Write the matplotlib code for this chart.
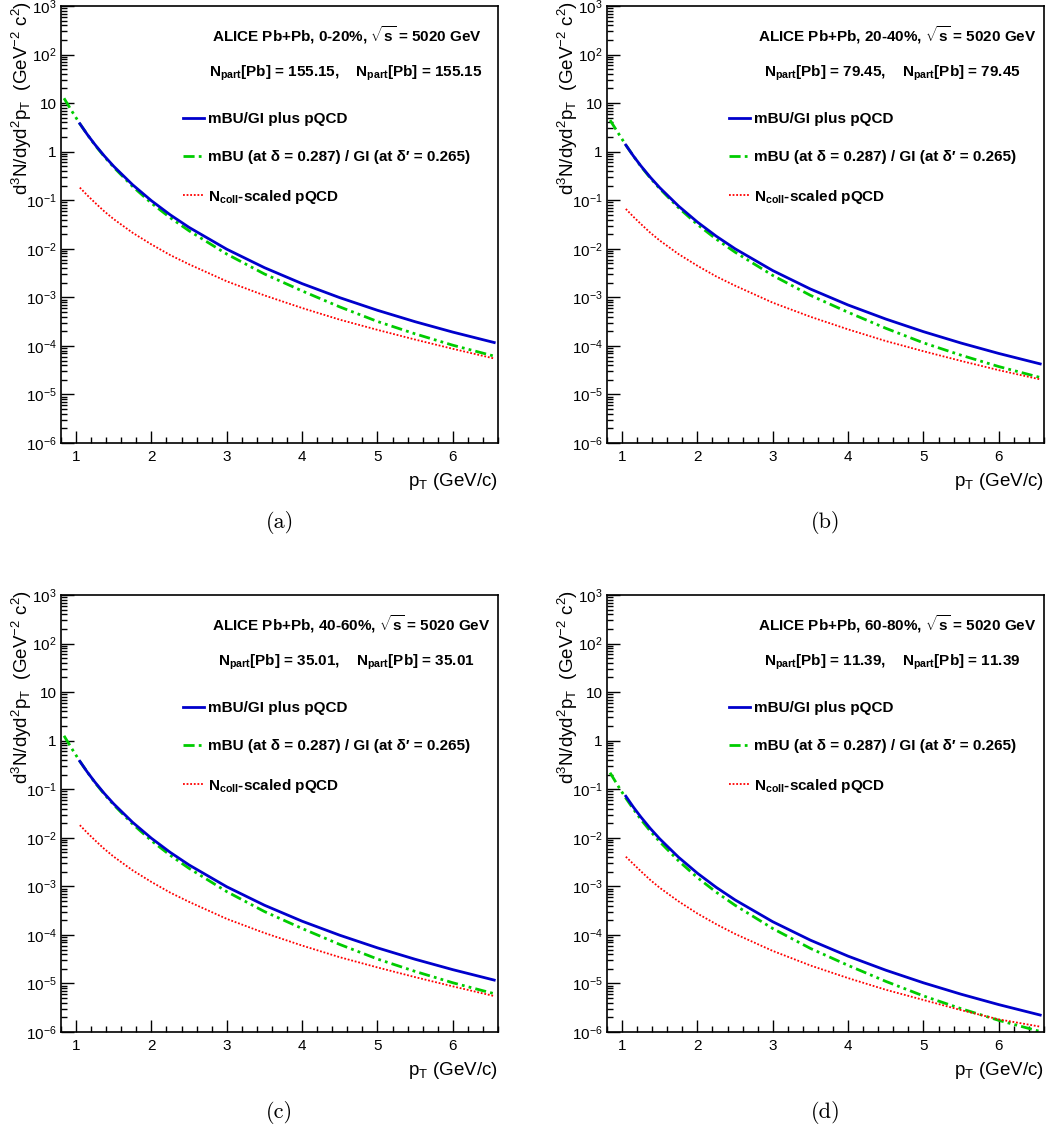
import numpy as np
import matplotlib
matplotlib.use("Agg")
import matplotlib.pyplot as plt
from matplotlib.lines import Line2D
from matplotlib.ticker import FixedLocator, FixedFormatter, LogLocator, MultipleLocator, NullFormatter

plt.rcParams['font.family'] = ['Liberation Sans', 'DejaVu Sans']
plt.rcParams['mathtext.fontset'] = 'custom'
plt.rcParams['mathtext.rm'] = 'Liberation Sans'
plt.rcParams['mathtext.it'] = 'Liberation Sans:italic'
plt.rcParams['mathtext.bf'] = 'Liberation Sans:bold'

# pT sampling
pt_grid = [1.05, 1.15, 1.25, 1.375, 1.5, 1.75, 2.0, 2.25, 2.5, 3.0, 3.5, 4.0, 4.5, 5.0, 5.5, 6.0, 6.55]
pt_green = [0.84, 0.95, 1.05, 1.15, 1.25, 1.375, 1.5, 1.75, 2.0, 2.25, 2.5, 3.0, 3.5, 4.0, 4.5, 5.0, 5.5, 6.0, 6.55]

# log10 of the yields
blue_a = [0.576, 0.352, 0.147, -0.088, -0.302, -0.681, -1.010, -1.301, -1.560, -2.009, -2.389, -2.718, -3.007, -3.267, -3.502, -3.716, -3.931]
green_a = [1.10, 0.82, 0.576, 0.352, 0.137, -0.103, -0.322, -0.716, -1.060, -1.361, -1.630, -2.109, -2.519, -2.868, -3.197, -3.497, -3.752, -3.986, -4.211]
red_a = [-0.74, -0.90, -1.05, -1.23, -1.39, -1.67, -1.91, -2.13, -2.32, -2.67, -2.96, -3.22, -3.46, -3.67, -3.87, -4.06, -4.26]

blue_b = [0.136, -0.088, -0.293, -0.528, -0.742, -1.121, -1.450, -1.741, -2.000, -2.449, -2.829, -3.158, -3.447, -3.707, -3.942, -4.156, -4.371]
green_b = [0.65, 0.38, 0.136, -0.088, -0.303, -0.543, -0.762, -1.156, -1.500, -1.801, -2.070, -2.549, -2.959, -3.308, -3.637, -3.937, -4.192, -4.426, -4.651]
red_b = [-1.18, -1.34, -1.49, -1.67, -1.83, -2.11, -2.35, -2.57, -2.76, -3.11, -3.40, -3.66, -3.90, -4.11, -4.31, -4.50, -4.69]

blue_c = [-0.424, -0.648, -0.853, -1.088, -1.302, -1.681, -2.010, -2.301, -2.560, -3.009, -3.389, -3.718, -4.007, -4.267, -4.502, -4.716, -4.931]
green_c = [0.10, -0.18, -0.424, -0.648, -0.863, -1.103, -1.322, -1.716, -2.060, -2.361, -2.630, -3.109, -3.519, -3.868, -4.197, -4.497, -4.752, -4.986, -5.211]
red_c = [-1.74, -1.90, -2.05, -2.23, -2.39, -2.67, -2.91, -3.13, -3.32, -3.67, -3.96, -4.22, -4.46, -4.67, -4.87, -5.06, -5.26]

blue_d = [-1.144, -1.368, -1.573, -1.808, -2.022, -2.401, -2.730, -3.021, -3.280, -3.729, -4.109, -4.438, -4.727, -4.987, -5.222, -5.436, -5.651]
green_d = [-0.66, -0.94, -1.184, -1.408, -1.623, -1.863, -2.082, -2.476, -2.820, -3.121, -3.390, -3.869, -4.279, -4.628, -4.957, -5.257, -5.52, -5.76, -5.99]
red_d = [-2.39, -2.54, -2.69, -2.87, -3.03, -3.31, -3.56, -3.78, -3.98, -4.33, -4.63, -4.89, -5.13, -5.34, -5.55, -5.74, -5.89]

centralities = ['0-20%', '20-40%', '40-60%', '60-80%']
npart = ['155.15', '79.45', '35.01', '11.39']
captions = ['(a)', '(b)', '(c)', '(d)']
blues = [blue_a, blue_b, blue_c, blue_d]
greens = [green_a, green_b, green_c, green_d]
reds = [red_a, red_b, red_c, red_d]

ytick_vals = [1e-6, 1e-5, 1e-4, 1e-3, 1e-2, 1e-1, 1, 10, 1e2, 1e3]
ytick_labels = ['$10^{-6}$', '$10^{-5}$', '$10^{-4}$', '$10^{-3}$', '$10^{-2}$', '$10^{-1}$',
                '1', '10', '$10^{2}$', '$10^{3}$']

blue_col = '#0000cc'
green_col = '#00cc00'
red_col = '#ff0000'
green_dash = (4, 1.5, 1, 1.5, 1, 1.5)

fig = plt.figure(figsize=(10.49, 11.34), dpi=100)

W, H = 1049.0, 1134.0
boxes = [(61, 6), (607, 6), (61, 595), (607, 595)]  # left, top in pixels
aw, ah = 437.0, 437.0

for i in range(4):
    left, top = boxes[i]
    ax = fig.add_axes([left / W, 1 - (top + ah) / H, aw / W, ah / H])

    ax.plot(pt_green, 10.0 ** np.array(greens[i]), color=green_col, lw=2.0, dashes=green_dash)
    ax.plot(pt_grid, 10.0 ** np.array(reds[i]), color=red_col, lw=1.3, dashes=(1, 1))
    ax.plot(pt_grid, 10.0 ** np.array(blues[i]), color=blue_col, lw=2.0)

    ax.set_yscale('log')
    ax.set_xlim(0.8, 6.6)
    ax.set_ylim(1e-6, 1e3)
    ax.yaxis.set_major_locator(FixedLocator(ytick_vals))
    ax.yaxis.set_major_formatter(FixedFormatter(ytick_labels))
    ax.yaxis.set_minor_locator(LogLocator(base=10, subs=range(2, 10), numticks=20))
    ax.yaxis.set_minor_formatter(NullFormatter())
    ax.xaxis.set_major_locator(FixedLocator([1, 2, 3, 4, 5, 6]))
    ax.xaxis.set_minor_locator(MultipleLocator(0.2))

    ax.tick_params(which='both', direction='in', top=False, right=False, labelsize=11)
    ax.tick_params(which='major', length=9, width=1.0)
    ax.tick_params(which='minor', length=4.5, width=1.0)
    ax.tick_params(axis='y', pad=3)
    ax.tick_params(axis='x', pad=5)
    for s in ax.spines.values():
        s.set_linewidth(1.2)

    ax.text(1.0, -0.087, r'p$_{\mathrm{T}}$ (GeV/c)', transform=ax.transAxes,
            ha='right', va='center', fontsize=13.5)
    ax.text(-0.09, 1.012, r'd$^{3}$N/dyd$^{2}$p$_{\mathrm{T}}$  (GeV$^{-2}$ c$^{2}$)',
            transform=ax.transAxes, rotation=90, ha='center', va='top', fontsize=13.5)

    ax.text(0.345, 0.934, 'ALICE Pb+Pb, ' + centralities[i] + r', $\sqrt{\mathbf{s}}$ = 5020 GeV',
            transform=ax.transAxes, ha='left', va='center', fontsize=11, fontweight='bold')
    ax.text(0.652, 0.847,
            r'$\mathbf{N}_{\mathbf{part}}$[Pb] = ' + npart[i] + r',    $\mathbf{N}_{\mathbf{part}}$[Pb] = ' + npart[i],
            transform=ax.transAxes, ha='center', va='center', fontsize=11, fontweight='bold')

    handles = [Line2D([], [], color=blue_col, lw=2.0),
               Line2D([], [], color=green_col, lw=2.0, dashes=green_dash),
               Line2D([], [], color=red_col, lw=1.3, dashes=(1, 1))]
    labels = ['mBU/GI plus pQCD',
              'mBU (at δ = 0.287) / GI (at δ\u2032 = 0.265)',
              r'$\mathbf{N}_{\mathbf{coll}}$-scaled pQCD']
    ax.legend(handles, labels, loc='upper left', bbox_to_anchor=(0.265, 0.771),
              frameon=False, prop={'weight': 'bold', 'size': 11},
              handlelength=1.35, handletextpad=0.3, labelspacing=1.55, borderaxespad=0)

    cx = (left + aw / 2) / W
    cy = 1 - (top + ah + 80) / H
    fig.text(cx, cy, captions[i], ha='center', va='center', fontsize=16, family='cmr10')

fig.savefig('out.png', dpi=100)
